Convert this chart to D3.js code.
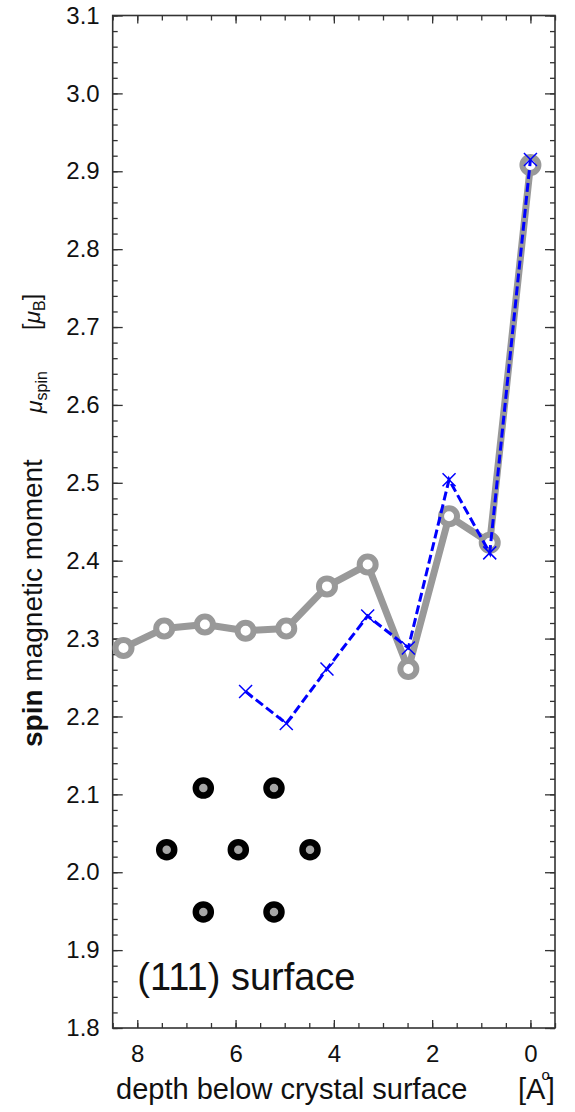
<!DOCTYPE html>
<html>
<head>
<meta charset="utf-8">
<script src="https://cdn.jsdelivr.net/npm/d3@7"></script>
<style>
  body { margin: 0; background: #fff; }
  text { font-family: "Liberation Sans", Arial, sans-serif; fill: #111; }
</style>
</head>
<body>
<div id="chart"></div>
<script>
// layer depth below the (111) surface, in Angstrom
var depth = [8.28, 7.452, 6.624, 5.796, 4.968, 4.14, 3.312, 2.484, 1.656, 0.828, 0];
var spinGray = [2.288, 2.313, 2.318, 2.310, 2.313, 2.367, 2.395, 2.261, 2.457, 2.423, 2.908];

var depthBlue = [5.796, 4.968, 4.14, 3.312, 2.484, 1.656, 0.828, 0];
var spinBlue = [2.232, 2.191, 2.261, 2.329, 2.288, 2.504, 2.410, 2.915];

// tick labels
var yTicks = [1.8, 1.9, 2.0, 2.1, 2.2, 2.3, 2.4, 2.5, 2.6, 2.7, 2.8, 2.9, 3.0, 3.1];
var xTicks = [8, 6, 4, 2, 0];

// little hexagonal atom sketch, in data units
var atomX = [6.656, 5.218, 7.401, 5.944, 4.485, 6.656, 5.218];
var atomY = [2.108, 2.108, 2.029, 2.029, 2.029, 1.949, 1.949];

var W = 575, H = 1112;
// plot box (note: "top" is a reserved window prop, so use pTop etc.)
var pLeft = 112.7, pRight = 555, pTop = 15.5, pBottom = 1028;

var svg = d3.select("#chart").append("svg")
  .attr("width", W)
  .attr("height", H);

var x = d3.scaleLinear().domain([8.5, -0.5]).range([pLeft, pRight]);
var y = d3.scaleLinear().domain([1.8, 3.1]).range([pBottom, pTop]);

var yMinor = d3.range(1.8, 3.1001, 0.02).map(function(d) { return +d.toFixed(2); });
var xMinor = d3.range(-0.5, 8.5001, 0.5);

function styleAxis(g) {
  g.select(".domain").remove();
  g.selectAll(".tick line").attr("stroke", "#333").attr("stroke-width", 1.3);
  g.selectAll(".tick text")
    .style("font-size", "24px")
    .style("font-family", "'Liberation Sans', Arial, sans-serif")
    .attr("fill", "#111");
}

// minor ticks, all four sides
svg.append("g").attr("transform", "translate(" + pLeft + ",0)")
  .call(d3.axisLeft(y).tickValues(yMinor).tickSize(-5).tickFormat(""))
  .call(styleAxis);
svg.append("g").attr("transform", "translate(" + pRight + ",0)")
  .call(d3.axisRight(y).tickValues(yMinor).tickSize(-5).tickFormat(""))
  .call(styleAxis);
svg.append("g").attr("transform", "translate(0," + pBottom + ")")
  .call(d3.axisBottom(x).tickValues(xMinor).tickSize(-5).tickFormat(""))
  .call(styleAxis);
svg.append("g").attr("transform", "translate(0," + pTop + ")")
  .call(d3.axisTop(x).tickValues(xMinor).tickSize(-5).tickFormat(""))
  .call(styleAxis);

// major ticks
svg.append("g").attr("transform", "translate(" + pLeft + ",0)")
  .call(d3.axisLeft(y).tickValues(yTicks).tickSize(-10).tickPadding(13).tickFormat(d3.format(".1f")))
  .call(styleAxis);
svg.append("g").attr("transform", "translate(" + pRight + ",0)")
  .call(d3.axisRight(y).tickValues(yTicks).tickSize(-10).tickFormat(""))
  .call(styleAxis);
svg.append("g").attr("transform", "translate(0," + pBottom + ")")
  .call(d3.axisBottom(x).tickValues(xTicks).tickSize(-8).tickPadding(17).tickFormat(d3.format("d")))
  .call(styleAxis);
svg.append("g").attr("transform", "translate(0," + pTop + ")")
  .call(d3.axisTop(x).tickValues(xTicks).tickSize(-8).tickFormat(""))
  .call(styleAxis);

// frame
svg.append("rect")
  .attr("x", pLeft).attr("y", pTop)
  .attr("width", pRight - pLeft).attr("height", pBottom - pTop)
  .attr("fill", "none").attr("stroke", "#333").attr("stroke-width", 1.6);

// gray series
var grayPts = depth.map(function(d, i) { return [d, spinGray[i]]; });
var line = d3.line()
  .x(function(d) { return x(d[0]); })
  .y(function(d) { return y(d[1]); });

svg.append("path")
  .datum(grayPts)
  .attr("d", line)
  .attr("fill", "none")
  .attr("stroke", "#999")
  .attr("stroke-width", 7)
  .attr("stroke-linejoin", "round");

svg.selectAll(".gdot")
  .data(grayPts)
  .enter().append("circle")
    .attr("class", "gdot")
    .attr("cx", function(d) { return x(d[0]); })
    .attr("cy", function(d) { return y(d[1]); })
    .attr("r", 8)
    .attr("fill", "#fff")
    .attr("stroke", "#999")
    .attr("stroke-width", 6);

// blue dashed series
var bluePts = depthBlue.map(function(d, i) { return [d, spinBlue[i]]; });
svg.append("path")
  .datum(bluePts)
  .attr("d", line)
  .attr("fill", "none")
  .attr("stroke", "#0000ff")
  .attr("stroke-width", 3)
  .attr("stroke-dasharray", "9,4");

var s = 6.5;
svg.selectAll(".bx")
  .data(bluePts)
  .enter().append("path")
    .attr("class", "bx")
    .attr("d", function(d) {
      var cx = x(d[0]), cy = y(d[1]);
      return "M" + (cx - s) + "," + (cy - s) + "L" + (cx + s) + "," + (cy + s) +
             "M" + (cx - s) + "," + (cy + s) + "L" + (cx + s) + "," + (cy - s);
    })
    .attr("stroke", "#0000ff")
    .attr("stroke-width", 1.5)
    .attr("fill", "none");

// atom sketch
svg.selectAll(".atom")
  .data(atomX)
  .enter().append("circle")
    .attr("class", "atom")
    .attr("cx", function(d) { return x(d); })
    .attr("cy", function(d, i) { return y(atomY[i]); })
    .attr("r", 7.5)
    .attr("fill", "#a6a6a6")
    .attr("stroke", "#000")
    .attr("stroke-width", 6.5);

svg.append("text")
  .attr("x", x(8.0))
  .attr("y", y(1.849))
  .style("font-size", "38px")
  .text("(111) surface");

// x title
svg.append("text")
  .attr("x", 116)
  .attr("y", 1099)
  .style("font-size", "29px")
  .text("depth below crystal surface");

var unit = svg.append("text")
  .attr("x", 518)
  .attr("y", 1099)
  .style("font-size", "29px");
unit.append("tspan").text("[A");
unit.append("tspan").attr("dx", -4).attr("dy", -19).style("font-size", "15px").text("o");
unit.append("tspan").attr("dx", -3).attr("dy", 19).text("]");

// y title, three pieces
var t1 = svg.append("text")
  .attr("transform", "translate(42,747) rotate(-90)")
  .style("font-size", "28px");
t1.append("tspan").style("font-weight", "bold").text("spin");
t1.append("tspan").text(" magnetic moment");

var t2 = svg.append("text")
  .attr("transform", "translate(42,413) rotate(-90)")
  .style("font-size", "23px");
t2.append("tspan").style("font-style", "italic").text("μ");
t2.append("tspan").attr("dy", 5).style("font-size", "16px").text("spin");

var t3 = svg.append("text")
  .attr("transform", "translate(40,330) rotate(-90)")
  .style("font-size", "23px");
t3.append("tspan").text("[");
t3.append("tspan").style("font-style", "italic").text("μ");
t3.append("tspan").attr("dy", 5).style("font-size", "16px").text("B");
t3.append("tspan").attr("dy", -5).text("]");
</script>
</body>
</html>
